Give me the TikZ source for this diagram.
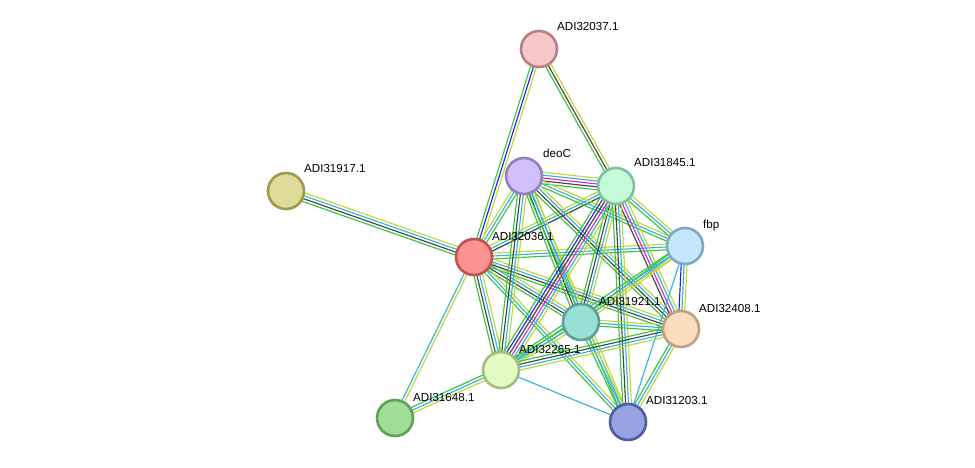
\documentclass[tikz,border=0pt]{standalone}
\usepackage{fontspec}
\setmainfont{Liberation Sans}
\usetikzlibrary{calc}
\usetikzlibrary{backgrounds}

\definecolor{nbgreen}{HTML}{3CC43C}
\definecolor{coblue}{HTML}{2424F0}
\definecolor{cxgray}{HTML}{464646}
\definecolor{exmag}{HTML}{E024E0}
\definecolor{dbcyan}{HTML}{34B4E0}
\definecolor{tmyel}{HTML}{C2D634}

\tikzset{
  prot/.style={circle, minimum size=36pt, inner sep=0pt, line width=2.6pt},
  lbl/.style={anchor=base west, inner sep=0pt, font=\fontsize{11.6}{13}\selectfont},
  link/.style={line width=1.15pt},
}

% one line per evidence channel, drawn side by side
\newcommand{\strlink}[3]{%
  \foreach \c [count=\i] in {#3} {\xdef\nlines{\i}}%
  \foreach \c [count=\i] in {#3} {%
    \pgfmathsetmacro{\off}{(\i-(\nlines+1)/2)*2.9}%
    \draw[link,\c] ($(#1)!\off pt!90:(#2)$) -- ($(#2)!\off pt!-90:(#1)$);
  }%
}

\begin{document}
\begin{tikzpicture}[x=1pt,y=-1pt]
  \useasboundingbox (0,0) rectangle (975,468);

  \node[prot, fill={rgb,255:red,248;green,200;blue,200}, draw={rgb,255:red,184;green,128;blue,128}] (a32037) at (539,49) {};
  \node[prot, fill={rgb,255:red,210;green,192;blue,250}, draw={rgb,255:red,146;green,128;blue,192}] (deoC) at (524,176) {};
  \node[prot, fill={rgb,255:red,196;green,250;blue,216}, draw={rgb,255:red,128;green,192;blue,160}] (a31845) at (616,186) {};
  \node[prot, fill={rgb,255:red,222;green,220;blue,152}, draw={rgb,255:red,160;green,152;blue,80}] (a31917) at (286,191) {};
  \node[prot, fill={rgb,255:red,196;green,232;blue,250}, draw={rgb,255:red,128;green,170;blue,196}] (fbp) at (685,246) {};
  \node[prot, fill={rgb,255:red,250;green,146;blue,146}, draw={rgb,255:red,192;green,82;blue,82}] (a32036) at (474,257) {};
  \node[prot, fill={rgb,255:red,152;green,224;blue,214}, draw={rgb,255:red,96;green,158;blue,150}] (a31921) at (581,322) {};
  \node[prot, fill={rgb,255:red,250;green,220;blue,190}, draw={rgb,255:red,190;green,160;blue,128}] (a32408) at (681,329) {};
  \node[prot, fill={rgb,255:red,226;green,250;blue,196}, draw={rgb,255:red,160;green,190;blue,128}] (a32265) at (501,370) {};
  \node[prot, fill={rgb,255:red,160;green,222;blue,152}, draw={rgb,255:red,96;green,160;blue,88}] (a31648) at (395,418) {};
  \node[prot, fill={rgb,255:red,152;green,162;blue,224}, draw={rgb,255:red,80;green,92;blue,160}] (a31203) at (628,422) {};

  \node[lbl] (l32037) at ($(a32037)+(18,-18)$) {ADI32037.1};
  \node[lbl] (ldeoC) at ($(deoC)+(19,-18)$) {deoC};
  \node[lbl] (l31845) at ($(a31845)+(18,-19)$) {ADI31845.1};
  \node[lbl] (l31917) at ($(a31917)+(18,-18)$) {ADI31917.1};
  \node[lbl] (lfbp) at ($(fbp)+(18,-18)$) {fbp};
  \node[lbl] (l32036) at ($(a32036)+(18,-17)$) {ADI32036.1};
  \node[lbl] (l31921) at ($(a31921)+(18,-17)$) {ADI31921.1};
  \node[lbl] (l32408) at ($(a32408)+(18,-17)$) {ADI32408.1};
  \node[lbl] (l32265) at ($(a32265)+(18,-17)$) {ADI32265.1};
  \node[lbl] (l31648) at ($(a31648)+(18,-17)$) {ADI31648.1};
  \node[lbl] (l31203) at ($(a31203)+(18,-18)$) {ADI31203.1};

  \begin{pgfonlayer}{background}
    \strlink{a32037}{a32036}{nbgreen,coblue,tmyel}
    \strlink{a32037}{a31845}{nbgreen,cxgray,tmyel}
    \strlink{a31917}{a32036}{nbgreen,cxgray,dbcyan,tmyel}
    \strlink{a32036}{a31648}{dbcyan,tmyel}
    \strlink{a32265}{a31648}{nbgreen,dbcyan,tmyel}
    \strlink{a32265}{a31203}{dbcyan}
    \strlink{a32036}{deoC}{nbgreen,dbcyan,tmyel}
    \strlink{a32036}{a31845}{cxgray,dbcyan,tmyel}
    \strlink{a32036}{fbp}{nbgreen,dbcyan,tmyel}
    \strlink{a32036}{a31921}{nbgreen,cxgray,dbcyan,tmyel}
    \strlink{a32036}{a32408}{nbgreen,cxgray,dbcyan,tmyel}
    \strlink{a32036}{a32265}{nbgreen,cxgray,dbcyan,tmyel}
    \strlink{a32036}{a31203}{nbgreen,dbcyan,tmyel}
    \strlink{deoC}{a31845}{nbgreen,cxgray,exmag,dbcyan,tmyel}
    \strlink{deoC}{fbp}{nbgreen,dbcyan,tmyel}
    \strlink{deoC}{a31921}{nbgreen,cxgray,dbcyan,tmyel}
    \strlink{deoC}{a32408}{nbgreen,cxgray,dbcyan,tmyel}
    \strlink{deoC}{a32265}{nbgreen,cxgray,dbcyan,tmyel}
    \strlink{deoC}{a31203}{nbgreen,dbcyan,tmyel}
    \strlink{a31845}{fbp}{nbgreen,dbcyan,tmyel}
    \strlink{a31845}{a31921}{nbgreen,cxgray,dbcyan,tmyel}
    \strlink{a31845}{a32408}{cxgray,exmag,dbcyan,tmyel}
    \strlink{a31845}{a32265}{nbgreen,coblue,cxgray,exmag,dbcyan,tmyel}
    \strlink{a31845}{a31203}{nbgreen,cxgray,dbcyan,tmyel}
    \strlink{fbp}{a31921}{nbgreen,dbcyan,tmyel}
    \strlink{fbp}{a32408}{coblue,dbcyan,tmyel}
    \strlink{fbp}{a32265}{nbgreen,dbcyan,tmyel}
    \strlink{fbp}{a31203}{dbcyan}
    \strlink{a31921}{a32408}{nbgreen,dbcyan,tmyel}
    \strlink{a31921}{a32265}{nbgreen,dbcyan,tmyel}
    \strlink{a31921}{a31203}{nbgreen,dbcyan,tmyel}
    \strlink{a32408}{a32265}{nbgreen,cxgray,dbcyan,tmyel}
    \strlink{a32408}{a31203}{nbgreen,dbcyan,tmyel}
  \end{pgfonlayer}
\end{tikzpicture}
\end{document}
